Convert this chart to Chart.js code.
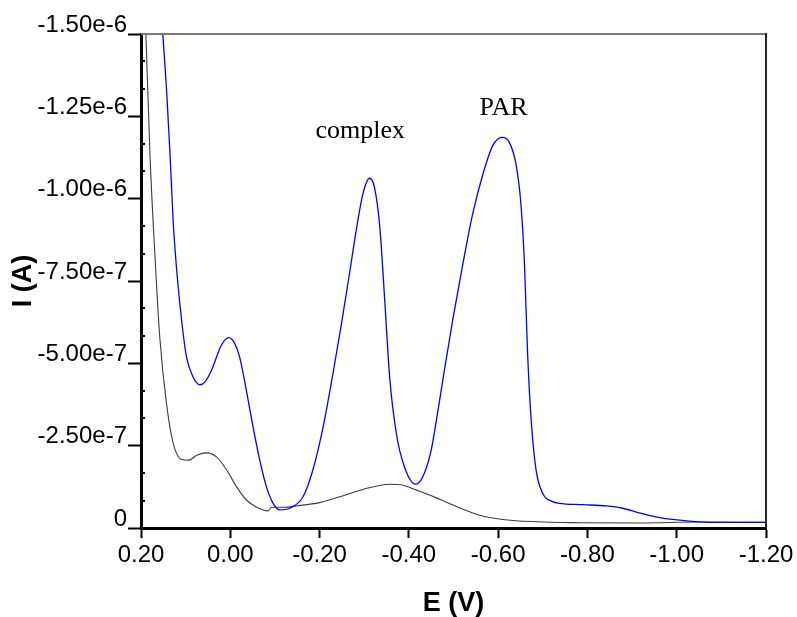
<!DOCTYPE html>
<html>
<head>
<meta charset="utf-8">
<script src="https://cdn.jsdelivr.net/npm/chart.js@4.4.1/dist/chart.umd.min.js"></script>
<style>
  body { margin: 0; background: #fff; }
  #wrap { width: 797px; height: 617px; }
</style>
</head>
<body>
<div id="wrap"><canvas id="voltammogram" width="797" height="617"></canvas></div>
<script>
// potential (V) and current (units of 1e-7 A)
const blueE = [0.156, 0.151, 0.143, 0.135, 0.128, 0.120, 0.109, 0.098, 0.083, 0.068,
  0.057, 0.042, 0.020, 0.003, -0.010, -0.021, -0.036, -0.051, -0.066, -0.081,
  -0.096, -0.111, -0.133, -0.163, -0.185, -0.208, -0.230, -0.249, -0.267, -0.282,
  -0.297, -0.312, -0.323, -0.335, -0.346, -0.357, -0.372, -0.390, -0.415, -0.431,
  -0.450, -0.465, -0.476, -0.498, -0.521, -0.543, -0.566, -0.588, -0.609, -0.625,
  -0.640, -0.651, -0.659, -0.666, -0.674, -0.685, -0.700, -0.722, -0.737, -0.790,
  -0.842, -0.879, -0.916, -0.953, -0.990, -1.028, -1.080, -1.200];
const blueI = [-16.15, -14.97, -13.37, -11.36, -9.33, -7.82, -6.30, -5.19, -4.58, -4.35,
  -4.43, -4.79, -5.55, -5.78, -5.60, -5.19, -4.18, -3.07, -2.06, -1.25,
  -0.75, -0.55, -0.60, -0.95, -1.76, -3.07, -4.69, -6.20, -7.72, -9.03,
  -10.14, -10.62, -10.34, -9.13, -6.91, -4.58, -2.87, -1.86, -1.33, -1.55,
  -2.36, -3.55, -4.48, -6.30, -8.02, -9.54, -10.75, -11.61, -11.86, -11.71,
  -11.05, -9.84, -8.02, -5.29, -3.27, -1.76, -1.05, -0.80, -0.75, -0.71,
  -0.67, -0.60, -0.46, -0.34, -0.26, -0.21, -0.17, -0.17];

const grayE = [0.191, 0.189, 0.180, 0.169, 0.158, 0.143, 0.128, 0.109, 0.092, 0.075,
  0.053, 0.031, 0.008, -0.014, -0.036, -0.059, -0.085, -0.092, -0.118, -0.148,
  -0.200, -0.245, -0.297, -0.357, -0.387, -0.417, -0.446, -0.469, -0.521, -0.558,
  -0.610, -0.685, -0.782, -0.916, -1.050, -1.200];
const grayI = [-16.0, -14.97, -11.36, -8.33, -5.80, -3.79, -2.58, -2.08, -2.06, -2.21,
  -2.28, -2.16, -1.76, -1.25, -0.85, -0.63, -0.52, -0.63, -0.63, -0.67,
  -0.77, -0.95, -1.17, -1.33, -1.30, -1.15, -1.00, -0.87, -0.57, -0.39,
  -0.26, -0.19, -0.16, -0.15, -0.18, -0.17];

const peakLabels = ['complex', 'PAR'];
const peakLabelE = [-0.291, -0.612];
const peakLabelI = [-11.83, -12.54];

const toPoints = (xs, ys) => xs.map((x, i) => ({x: x, y: ys[i]}));

// top/right frame, small inner ticks on the current axis, peak names
const framePlugin = {
    id: 'frame',
    afterDraw(chart) {
        const {ctx, chartArea: a, scales} = chart;
        ctx.save();
        ctx.lineWidth = 2;
        ctx.strokeStyle = '#7a7a7a';
        ctx.beginPath();
        ctx.moveTo(a.left, a.top);
        ctx.lineTo(a.right, a.top);
        ctx.stroke();
        ctx.strokeStyle = '#222';
        ctx.beginPath();
        ctx.moveTo(a.right, a.top - 1);
        ctx.lineTo(a.right, a.bottom);
        ctx.stroke();

        const ticks = scales.y.ticks;
        ctx.strokeStyle = '#000';
        for (let i = 0; i < ticks.length - 1; i++) {
            const v0 = ticks[i].value, v1 = ticks[i + 1].value;
            for (let k = 1; k < 3; k++) {
                const py = Math.round(scales.y.getPixelForValue(v0 + (v1 - v0) * k / 3));
                ctx.beginPath();
                ctx.moveTo(a.left + 1, py);
                ctx.lineTo(a.left + 4, py);
                ctx.stroke();
            }
        }

        ctx.fillStyle = '#000';
        ctx.font = '26px "Liberation Serif", "Times New Roman", serif';
        ctx.textAlign = 'center';
        ctx.textBaseline = 'alphabetic';
        peakLabels.forEach((t, i) => {
            ctx.fillText(t, scales.x.getPixelForValue(peakLabelE[i]), scales.y.getPixelForValue(peakLabelI[i]));
        });
        ctx.restore();
    }
};

const tickFont = {family: '"Liberation Sans", Arial, sans-serif', size: 24};
const titleFont = {family: '"Liberation Sans", Arial, sans-serif', size: 27, weight: 'bold', lineHeight: 1};

new Chart(document.getElementById('voltammogram'), {
    type: 'line',
    data: {
        datasets: [{
            data: toPoints(blueE, blueI),
            borderColor: '#0000ff',
            borderWidth: 1.3,
            pointRadius: 0,
            cubicInterpolationMode: 'monotone'
        }, {
            data: toPoints(grayE, grayI),
            borderColor: '#3c3c3c',
            borderWidth: 1.1,
            pointRadius: 0,
            cubicInterpolationMode: 'monotone'
        }]
    },
    options: {
        responsive: false,
        animation: false,
        layout: {padding: {top: 34, right: 31, bottom: 0, left: 0}},
        plugins: {
            legend: {display: false},
            tooltip: {enabled: false}
        },
        scales: {
            x: {
                type: 'linear',
                reverse: true,
                min: -1.2,
                max: 0.2,
                afterFit(scale) { scale.height = 89; },
                ticks: {
                    stepSize: 0.2,
                    padding: 3,
                    color: '#000',
                    font: tickFont,
                    maxRotation: 0,
                    callback: v => Math.abs(v) < 1e-9 ? '0.00' : v.toFixed(2)
                },
                grid: {drawOnChartArea: false, tickLength: 10, tickWidth: 2, tickColor: '#000'},
                border: {display: true, color: '#000', width: 3},
                title: {display: true, text: 'E (V)', color: '#000', font: titleFont, padding: 0}
            },
            y: {
                type: 'linear',
                reverse: true,
                min: -15,
                max: 0,
                afterFit(scale) { scale.width = 141; },
                ticks: {
                    stepSize: 2.5,
                    padding: 1,
                    labelOffset: -9,
                    color: '#000',
                    font: tickFont,
                    callback: v => v === 0 ? '0' : (v * 1e-7).toExponential(2)
                },
                grid: {drawOnChartArea: false, tickLength: 13, tickWidth: 2, tickColor: '#000'},
                border: {display: true, color: '#000', width: 3},
                title: {display: true, text: 'I (A)', color: '#000', font: titleFont, padding: {top: 10, bottom: 0}}
            }
        }
    },
    plugins: [framePlugin]
});
</script>
</body>
</html>
